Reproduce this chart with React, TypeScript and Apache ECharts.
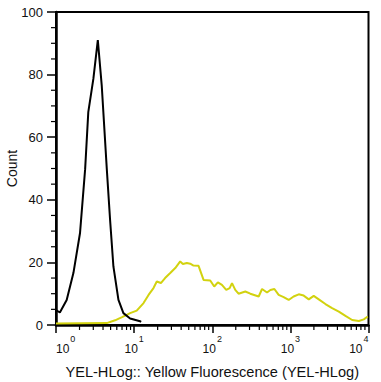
import React, { useEffect, useRef } from "react";
import * as echarts from "echarts";

// Fluorescence channel values (linear units, plotted on a log10 axis) and counts
const blackX = [1.0, 1.12, 1.37, 1.67, 2.03, 2.36, 2.59, 3.01, 3.43, 3.85, 4.47, 4.92, 5.43, 6.3, 7.29, 8.89, 11.9, 12.3];
const blackY = [4.8, 4.0, 8.0, 16.6, 29.4, 49.8, 68, 78.7, 91, 76.5, 49.8, 33.7, 18.7, 8.0, 3.8, 2.1, 1.2, 1.0];

const yellowX = [
  1.0, 4.47, 5.7, 7.01, 8.89, 10.8, 13.2, 15.3, 17.7, 19.5, 22.0, 24.9, 29.0, 33.6, 38.9, 42.1, 47.3, 52.2,
  57.5, 66.8, 77.4, 94.2, 106, 118, 133, 151, 167, 179, 197, 217, 265, 307, 393, 434, 502, 555, 624, 708,
  820, 951, 1100, 1280, 1480, 1720, 1990, 2310, 2810, 3420, 4170, 5070, 6180, 7520, 8710, 9770,
];
const yellowY = [
  0.5, 0.6, 1.5, 2.5, 3.8, 4.6, 7.0, 9.6, 11.8, 13.9, 13.4, 15.0, 16.6, 18.2, 20.3, 19.5, 19.8, 19.6,
  19.0, 18.9, 14.4, 14.2, 12.3, 13.6, 12.8, 11.2, 11.8, 13.4, 11.2, 10.0, 10.7, 10.0, 9.1, 11.5, 10.4, 11.2, 11.5, 9.6,
  8.9, 8.0, 9.1, 9.8, 9.4, 8.2, 9.3, 8.2, 6.7, 5.4, 4.3, 2.9, 1.6, 1.3, 1.8, 2.7,
];

const decadeExponents = [0, 1, 2, 3, 4];
const minorMultipliers = [2, 3, 4, 5, 6, 7, 8, 9];
const yMin = 0;
const yMax = 100;
const yStep = 20;
const yMinorStep = 5;

const FONT = "'Liberation Sans', Arial, sans-serif";

export default function App() {
  const ref = useRef<HTMLDivElement>(null);
  useEffect(() => {
    if (!ref.current) return;
    const chart = echarts.init(ref.current, null, { renderer: "svg" });
    const toPairs = (xs: number[], ys: number[]) => xs.map((x, i) => [Math.log10(x), ys[i]]);
    const xMin = decadeExponents[0];
    const xMax = decadeExponents[decadeExponents.length - 1];
    const xMinorTicks: number[][] = [];
    decadeExponents.slice(0, -1).forEach((e) => minorMultipliers.forEach((m) => xMinorTicks.push([e + Math.log10(m), yMin])));
    const yMinorTicks: number[][] = [];
    for (let v = yMin + yMinorStep; v < yMax; v += yMinorStep) {
      if (v % yStep !== 0) yMinorTicks.push([xMin, v]);
    }

    const tickSeries = (data: number[][], dx: number, dy: number) => ({
      type: "custom",
      clip: false,
      silent: true,
      data,
      encode: { x: 0, y: 1 },
      renderItem: (_params: any, api: any) => {
        const p = api.coord([api.value(0), api.value(1)]);
        return {
          type: "line",
          shape: { x1: p[0], y1: p[1], x2: p[0] + dx, y2: p[1] + dy },
          style: { stroke: "#000", lineWidth: 1.2 },
        };
      },
    });

    chart.setOption({
      animation: false,
      backgroundColor: "#fff",
      grid: {
        left: 56, right: 12.5, top: 12, bottom: 57,
        outerBoundsMode: "none", containLabel: false,
        show: true, borderColor: "#000", borderWidth: 2, backgroundColor: "transparent",
      },
      xAxis: {
        type: "value",
        position: "bottom",
        min: xMin,
        max: xMax,
        interval: 1,
        name: "YEL-HLog:: Yellow Fluorescence (YEL-HLog)",
        nameLocation: "middle",
        nameGap: 39,
        nameMoveOverlap: false,
        nameTextStyle: { fontFamily: FONT, fontSize: 14.6, color: "#111" },
        axisLine: { onZero: false, lineStyle: { color: "#000", width: 2.5 } },
        axisTick: { show: true, length: 8, lineStyle: { color: "#000", width: 1.5 } },
        splitLine: { show: false },
        axisLabel: {
          margin: 12,
          alignMinLabel: "left",
          alignMaxLabel: "right",
          formatter: (v: number) => `{b|10}{s|${Math.round(v)}}`,
          rich: {
            b: { fontFamily: FONT, fontSize: 12, color: "#111", lineHeight: 14, padding: [10, 0, 0, 0] },
            s: { fontFamily: FONT, fontSize: 9, color: "#111", lineHeight: 10, padding: [0, 0, 11, 1] },
          },
        },
      },
      yAxis: {
        type: "value",
        min: yMin,
        max: yMax,
        interval: yStep,
        name: "Count",
        nameLocation: "middle",
        nameGap: 37,
        nameRotate: 90,
        nameMoveOverlap: false,
        nameTextStyle: { fontFamily: FONT, fontSize: 14, color: "#111" },
        axisLine: { show: true, onZero: false, lineStyle: { color: "#000", width: 2.5 } },
        axisTick: { show: true, length: 9, lineStyle: { color: "#000", width: 1.5 } },
        minorTick: { show: false },
        splitLine: { show: false },
        minorSplitLine: { show: false },
        axisLabel: { margin: 13, fontFamily: FONT, fontSize: 13, color: "#111" },
      },
      series: [
        {
          type: "line",
          data: toPairs(yellowX, yellowY),
          showSymbol: false,
          lineStyle: { color: "#d2d20f", width: 2 },
          silent: true,
        },
        {
          type: "line",
          data: toPairs(blackX, blackY),
          showSymbol: false,
          lineStyle: { color: "#000", width: 2 },
          silent: true,
        },
        tickSeries(xMinorTicks, 0, 5),
        tickSeries(yMinorTicks, -5, 0),
      ],
    });
    return () => chart.dispose();
  }, []);
  return <div ref={ref} style={{ position: "absolute", left: 0, top: 0, width: 381, height: 382 }} />;
}
